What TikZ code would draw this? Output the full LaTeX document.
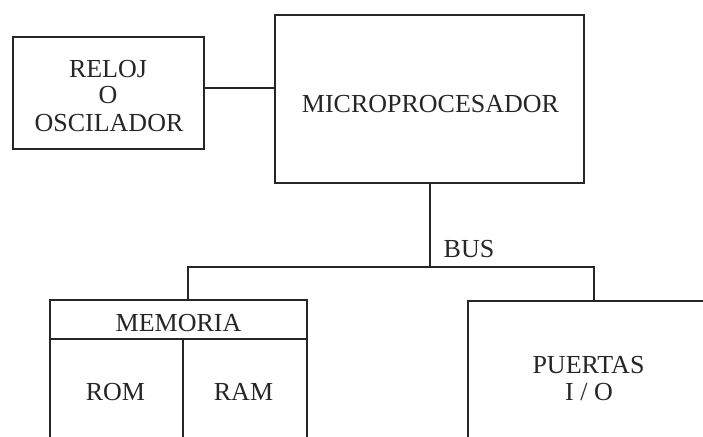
\documentclass[tikz,border=0pt]{standalone}
\usepackage{fontspec}
\setmainfont{Liberation Serif}
\begin{document}
\begin{tikzpicture}[x=1pt,y=-1pt,
  box/.style={draw=black!85, line width=1.6pt, inner sep=0pt, anchor=north west},
  wire/.style={draw=black!85, line width=1.6pt},
  lbl/.style={font=\fontsize{26}{27}\selectfont, text=black!85, inner sep=0pt, anchor=base}]
\useasboundingbox (0,0) rectangle (703,436);
\fill[white] (0,0) rectangle (703,436);
\clip (0,0) rectangle (703,436);
% boxes
\node[box, minimum width=191pt, minimum height=112pt] (reloj) at (12,36) {};
\node[box, minimum width=309pt, minimum height=168pt] (micro) at (274,14) {};
\node[box, minimum width=257pt, minimum height=39pt] (memoria) at (49,299) {};
\node[box, minimum width=133pt, minimum height=130pt] (rom) at (49,338) {};
\node[box, minimum width=124pt, minimum height=130pt] (ram) at (182,338) {};
\node[box, minimum width=260pt, minimum height=150pt] (puertas) at (467,300) {};
% texts
\node[lbl] (t1) at (108,77) {RELOJ};
\node[lbl] (t2) at (108,103) {O};
\node[lbl] (t3) at (109,131) {OSCILADOR};
\node[lbl] (tm) at (430.5,112) {MICROPROCESADOR};
\node[lbl] (tbus) at (469,257) {BUS};
\node[lbl] (tmem) at (178.5,331) {MEMORIA};
\node[lbl] (trom) at (115.5,400) {ROM};
\node[lbl] (tram) at (243.5,400) {RAM};
\node[lbl] (tp1) at (588.5,373) {PUERTAS};
\node[lbl] (tp2) at (589,400) {I / O};
% connectors
\coordinate (cy) at (0,88);
\coordinate (by) at (0,267);
\coordinate (bx) at (430,0);
\coordinate (ml) at (188,0);
\coordinate (pr) at (594,0);
\draw[wire] (reloj.east |- cy) -- (micro.west |- cy);
\draw[wire] (micro.south -| bx) -- (bx |- by);
\draw[wire] (memoria.north -| ml) -- (ml |- by) -- (pr |- by) -- (puertas.north -| pr);
\end{tikzpicture}
\end{document}
